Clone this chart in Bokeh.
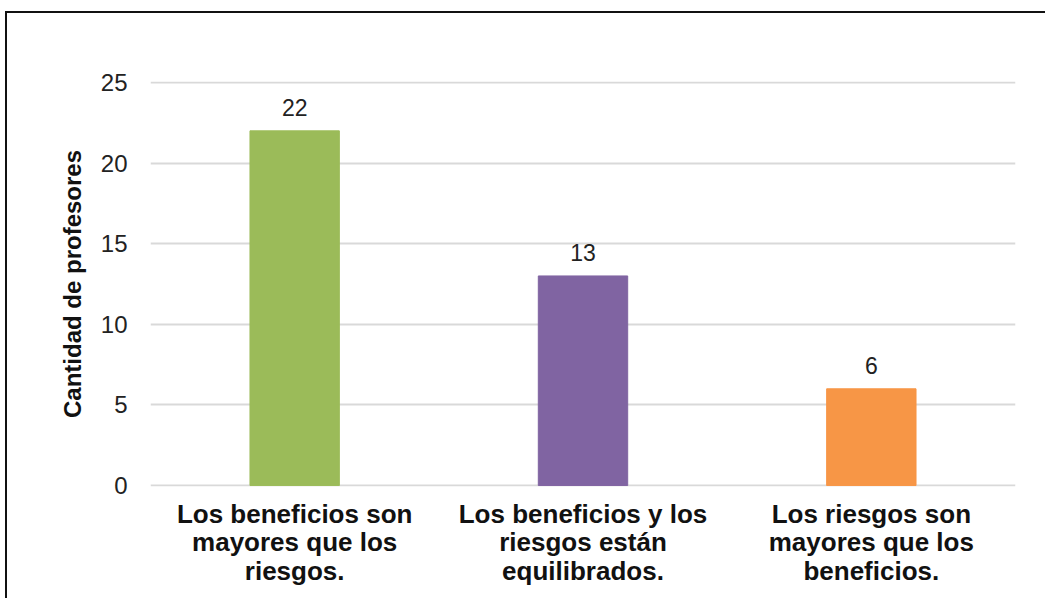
from bokeh.plotting import figure
from bokeh.models import ColumnDataSource, Range1d, FixedTicker, LabelSet
from bokeh.core.properties import value
from bokeh.embed import file_html
from bokeh.resources import INLINE

categories = ["Los beneficios son\nmayores que los\nriesgos.",
              "Los beneficios y los\nriesgos están\nequilibrados.",
              "Los riesgos son\nmayores que los\nbeneficios."]
values = [22, 13, 6]
colors = ["#9BBB59", "#8064A2", "#F79646"]
y_ticks = [0, 5, 10, 15, 20, 25]

src = ColumnDataSource(dict(cat=categories, val=values, color=colors,
                            lbl=[str(v) for v in values]))

p = figure(x_range=categories, y_range=Range1d(-0.06, 25.06),
           frame_width=865, frame_height=405,
           min_border_left=143, min_border_right=30,
           min_border_top=68, min_border_bottom=112,
           output_backend="svg", toolbar_location=None,
           styles={"border-left": "2px solid #111", "border-top": "2px solid #111",
                   "margin-left": "5px", "margin-top": "11px"})

p.vbar(x="cat", top="val", width=0.31, color="color", source=src)

labels = LabelSet(x="cat", y="val", text="lbl", source=src, text_align="center",
                  text_baseline="alphabetic", y_offset=15,
                  text_font_size=value("23px"),
                  text_font=value("Liberation Sans"), text_color="#222222")
p.add_layout(labels)

p.outline_line_color = None
p.xgrid.grid_line_color = None
p.ygrid.grid_line_color = "#d9d9d9"
p.ygrid.grid_line_width = 2
p.yaxis.ticker = FixedTicker(ticks=y_ticks)

for ax in (p.xaxis, p.yaxis):
    ax.axis_line_color = None
    ax.major_tick_line_color = None
    ax.minor_tick_line_color = None

p.yaxis.major_label_text_font = "Liberation Sans"
p.yaxis.major_label_text_font_size = "24px"
p.yaxis.major_label_text_color = "#222222"
p.yaxis.major_label_standoff = 17
p.yaxis.axis_label = "Cantidad de profesores"
p.yaxis.axis_label_text_font = "Liberation Sans"
p.yaxis.axis_label_text_font_size = "24px"
p.yaxis.axis_label_text_font_style = "bold"
p.yaxis.axis_label_text_color = "#111111"
p.yaxis.axis_label_standoff = 12

p.xaxis.major_label_text_font = "Liberation Sans"
p.xaxis.major_label_text_font_size = "26px"
p.xaxis.major_label_text_font_style = "bold"
p.xaxis.major_label_text_color = "#111111"
p.xaxis.major_label_standoff = 6
p.xaxis.major_label_text_line_height = 0.95

open("out.html", "w").write(file_html(p, INLINE))
